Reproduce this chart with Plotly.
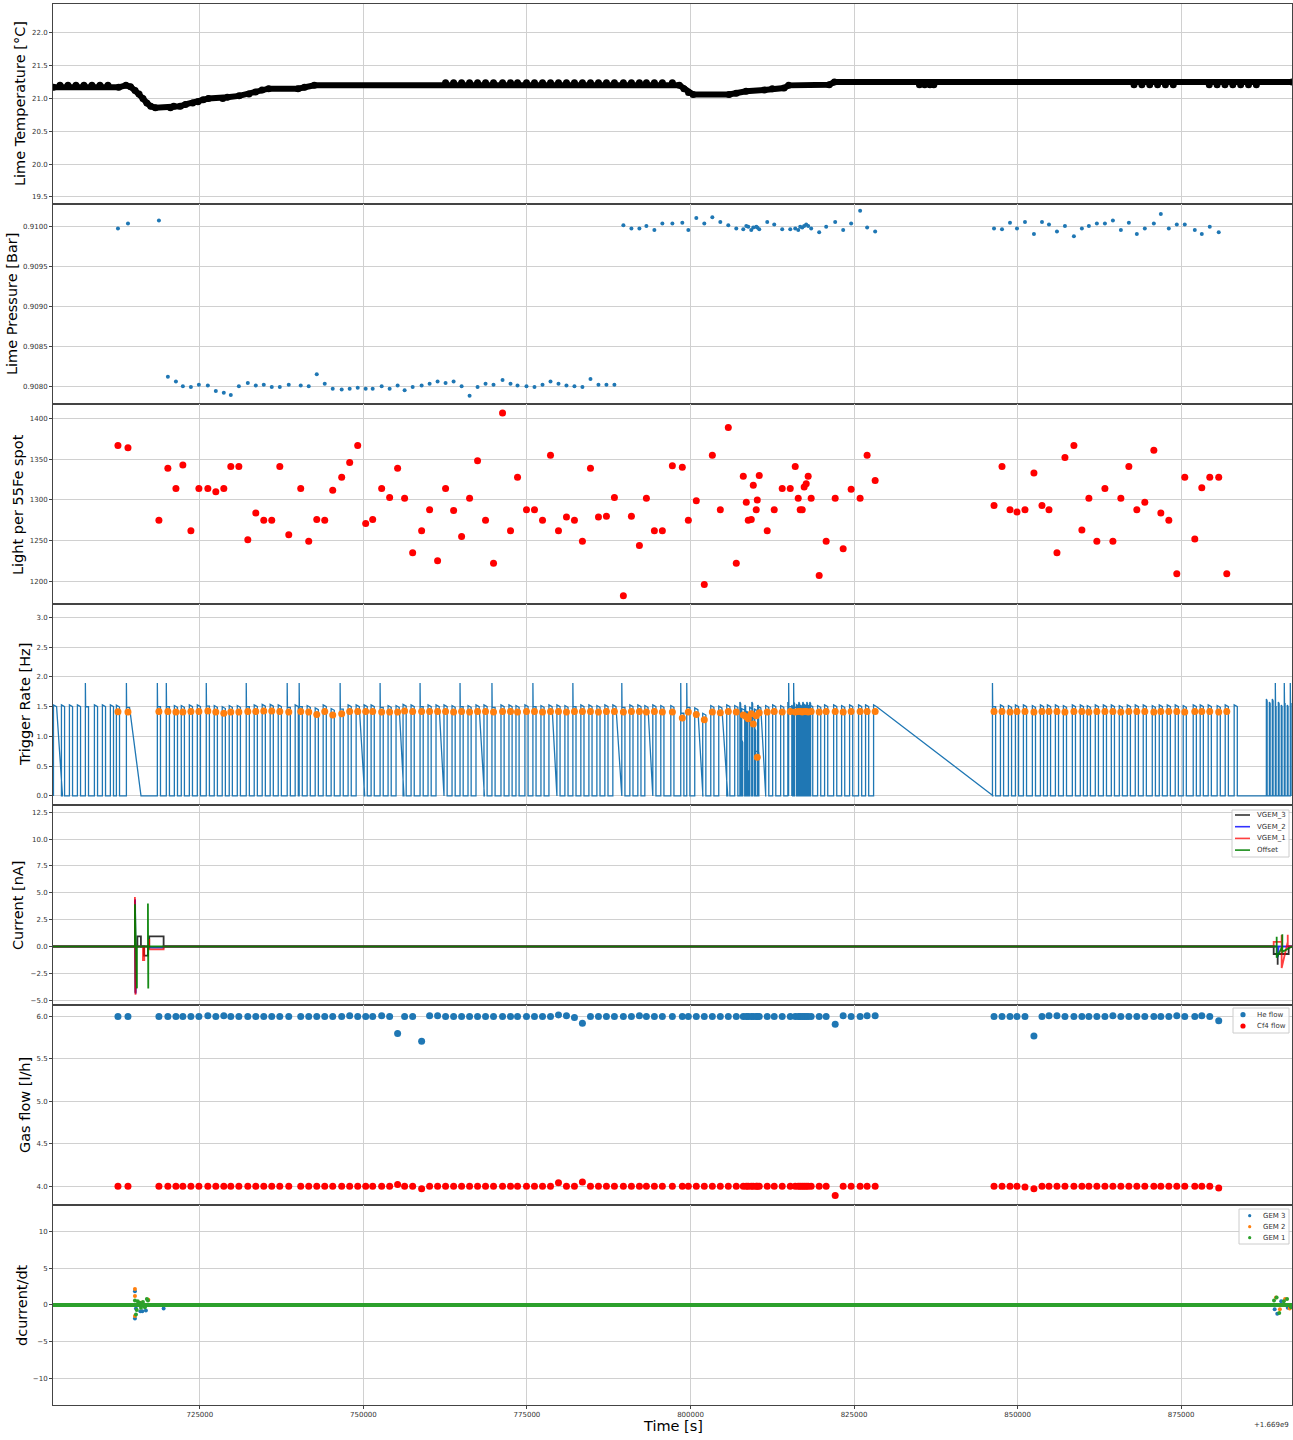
import plotly.graph_objects as go
from plotly.subplots import make_subplots

# ---------------------------------------------------------------------------
# Per-run quantities (time in s, offset from 1.669e9)
# ---------------------------------------------------------------------------
run_t = [
    712480, 714010, 718740, 720110, 721340, 722400, 723630, 724850, 726220, 727440,
    728660, 729730, 730960, 732330, 733550, 734770, 735990, 737220, 738590, 740420,
    741640, 742870, 744090, 745310, 746680, 747900, 749130, 750350, 751420, 752790,
    754010, 755230, 756300, 757530, 758900, 760120, 761340, 762560, 763790, 765010,
    766230, 767450, 768670, 769890, 771270, 772490, 773560, 774930, 776150, 777380,
    778600, 779820, 781040, 782260, 783480, 784710, 785930, 787150, 788370, 789740,
    790970, 792190, 793260, 794480, 795700, 797230, 798750, 799670, 800890, 802110,
    803340, 804560, 805780, 807000, 808070, 808530, 808830, 809290, 809600, 810050,
    810210, 810510, 811730, 812800, 814020, 815250, 816010, 816470, 816770, 817080,
    817380, 817690, 817990, 818450, 819670, 820740, 822120, 823340, 824560, 825930,
    827000, 828230,
    846400, 847620, 848840, 849910, 851130, 852500, 853730, 854800, 856020, 857240,
    858610, 859830, 860900, 862120, 863350, 864570, 865790, 867010, 868230, 869450,
    870830, 871900, 873120, 874340, 875560, 877090, 878160, 879380, 880750, 881980,
]

pressure_bar = [
    0.90998, 0.91004, 0.91008,
    0.90812, 0.90806, 0.90800, 0.90799, 0.90802, 0.90801, 0.90794, 0.90792, 0.90789, 0.90800,
    0.90804, 0.90801, 0.90802, 0.90799, 0.90799, 0.90802, 0.90801, 0.90800, 0.90815, 0.90803,
    0.90797, 0.90796, 0.90797, 0.90798, 0.90797, 0.90797, 0.90800, 0.90797, 0.90801, 0.90795,
    0.90799, 0.90801, 0.90803, 0.90806, 0.90804, 0.90806, 0.90800, 0.90788, 0.90799, 0.90803,
    0.90802, 0.90808, 0.90803, 0.90801, 0.90800, 0.90799, 0.90802, 0.90806, 0.90803, 0.90801,
    0.90800, 0.90799, 0.90809, 0.90802, 0.90802, 0.90802,
    0.91002, 0.90998, 0.90998, 0.91001, 0.90996, 0.91004, 0.91004, 0.91005, 0.90996, 0.91011,
    0.91004, 0.91012, 0.91006, 0.91002, 0.90998, 0.90997, 0.91001, 0.91000, 0.90996, 0.90999,
    0.91000, 0.90999, 0.90997, 0.91006, 0.91003, 0.90997, 0.90997, 0.90998, 0.90996, 0.91000,
    0.90999, 0.91001, 0.91003, 0.91001, 0.90998, 0.90993, 0.91000, 0.91006, 0.90996, 0.91004,
    0.91020, 0.90999, 0.90994,
    0.90998, 0.90997, 0.91005, 0.90998, 0.91006, 0.90991, 0.91006, 0.91003, 0.90994, 0.91001,
    0.90988, 0.90998, 0.91001, 0.91004, 0.91004, 0.91008, 0.90996, 0.91005, 0.90991, 0.90998,
    0.91004, 0.91016, 0.90998, 0.91003, 0.91003, 0.90996, 0.90991, 0.91000, 0.90993, None,
]

light_fe55 = [
    1367, 1364, 1275, 1339, 1314, 1343, 1262, 1314, 1314, 1310,
    1314, 1341, 1341, 1251, 1284, 1275, 1275, 1341, 1257, 1314,
    1249, 1276, 1275, 1312, 1328, 1346, 1367, 1271, 1276, 1314,
    1303, 1339, 1302, 1235, 1262, 1288, 1225, 1314, 1287, 1255,
    1302, 1348, 1275, 1222, 1407, 1262, 1328, 1288, 1288, 1275,
    1355, 1262, 1279, 1275, 1249, 1339, 1279, 1280, 1303, 1182,
    1280, 1244, 1302, 1262, 1262, 1342, 1340, 1275, 1299, 1196,
    1355, 1288, 1389, 1222, 1329, 1297, 1275, 1276, 1318, 1288,
    1300, 1330, 1262, 1288, 1314, 1314, 1341, 1302, 1288, 1288,
    1316, 1320, 1329, 1302, 1207, 1249, 1302, 1240, 1313, 1302,
    1355, 1324,
    1293, 1341, 1288, 1285, 1288, 1333, 1293, 1288, 1235, 1352,
    1367, 1263, 1302, 1249, 1314, 1249, 1302, 1341, 1288, 1297,
    1361, 1284, 1275, 1209, 1328, 1252, 1315, 1328, 1328, 1209,
]

trig_mean_hz = [
    1.415, 1.41, 1.42, 1.42, 1.41, 1.41, 1.42, 1.42, 1.43, 1.41,
    1.39, 1.41, 1.41, 1.42, 1.42, 1.43, 1.43, 1.42, 1.41, 1.42,
    1.41, 1.37, 1.42, 1.36, 1.38, 1.42, 1.42, 1.42, 1.42, 1.41,
    1.41, 1.41, 1.43, 1.42, 1.42, 1.42, 1.42, 1.42, 1.41, 1.42,
    1.41, 1.42, 1.42, 1.41, 1.42, 1.42, 1.41, 1.42, 1.42, 1.41,
    1.42, 1.42, 1.41, 1.42, 1.42, 1.42, 1.41, 1.42, 1.42, 1.41,
    1.42, 1.42, 1.41, 1.42, 1.41, 1.41, 1.31, 1.41, 1.37, 1.28,
    1.41, 1.40, 1.42, 1.41, 1.36, 1.33, 1.30, 1.38, 1.21, 1.35,
    0.65, 1.40, 1.41, 1.42, 1.41, 1.42, 1.41, 1.42, 1.42, 1.41,
    1.42, 1.42, 1.41, 1.42, 1.41, 1.42, 1.42, 1.41, 1.42, 1.42,
    1.42, 1.42,
    1.42, 1.42, 1.41, 1.42, 1.42, 1.41, 1.42, 1.42, 1.42, 1.41,
    1.42, 1.42, 1.41, 1.42, 1.42, 1.42, 1.41, 1.42, 1.42, 1.42,
    1.41, 1.42, 1.42, 1.42, 1.41, 1.42, 1.42, 1.42, 1.41, 1.42,
]

he_flow = [
    6.00, 6.00, 6.00, 6.00, 6.00, 6.00, 6.00, 6.00, 6.01, 6.00,
    6.01, 6.00, 6.00, 6.00, 6.00, 6.00, 6.00, 6.00, 6.00, 6.00,
    6.00, 6.00, 6.00, 6.00, 6.00, 6.01, 6.00, 6.00, 6.00, 6.01,
    6.00, 5.80, 6.00, 6.00, 5.71, 6.01, 6.01, 6.00, 6.00, 6.00,
    6.00, 6.00, 6.00, 6.00, 6.00, 6.00, 6.00, 6.00, 6.00, 6.00,
    6.00, 6.02, 6.01, 5.99, 5.92, 6.00, 6.00, 6.00, 6.00, 6.00,
    6.00, 6.01, 6.00, 6.00, 6.00, 6.00, 6.00, 6.00, 6.00, 6.00,
    6.00, 6.00, 6.00, 6.00, 6.00, 6.00, 6.00, 6.00, 6.00, 6.00,
    6.00, 6.00, 6.00, 6.00, 6.00, 6.00, 6.00, 6.00, 6.00, 6.00,
    6.00, 6.00, 6.00, 6.00, 6.00, 6.00, 5.91, 6.01, 6.00, 6.00,
    6.01, 6.01,
    6.00, 6.00, 6.00, 6.00, 6.00, 5.77, 6.00, 6.01, 6.01, 6.00,
    6.00, 6.00, 6.00, 6.00, 6.00, 6.01, 6.00, 6.00, 6.00, 6.00,
    6.00, 6.00, 6.00, 6.01, 6.00, 6.00, 6.01, 6.00, 5.95, None,
]

cf4_flow = [
    4.00, 4.00, 4.00, 4.00, 4.00, 4.00, 4.00, 4.00, 4.00, 4.00,
    4.00, 4.00, 4.00, 4.00, 4.00, 4.00, 4.00, 4.00, 4.00, 4.00,
    4.00, 4.00, 4.00, 4.00, 4.00, 4.00, 4.00, 4.00, 4.00, 4.00,
    4.00, 4.02, 4.00, 4.00, 3.97, 4.00, 4.00, 4.00, 4.00, 4.00,
    4.00, 4.00, 4.00, 4.00, 4.00, 4.00, 4.00, 4.00, 4.00, 4.00,
    4.00, 4.04, 4.00, 4.00, 4.05, 4.00, 4.00, 4.00, 4.00, 4.00,
    4.00, 4.00, 4.00, 4.00, 4.00, 4.00, 4.00, 4.00, 4.00, 4.00,
    4.00, 4.00, 4.00, 4.00, 4.00, 4.00, 4.00, 4.00, 4.00, 4.00,
    4.00, 4.00, 4.00, 4.00, 4.00, 4.00, 4.00, 4.00, 4.00, 4.00,
    4.00, 4.00, 4.00, 4.00, 4.00, 4.00, 3.89, 4.00, 4.00, 4.00,
    4.00, 4.00,
    4.00, 4.00, 4.00, 4.00, 3.99, 3.97, 4.00, 4.00, 4.00, 4.00,
    4.00, 4.00, 4.00, 4.00, 4.00, 4.00, 4.00, 4.00, 4.00, 4.00,
    4.00, 4.00, 4.00, 4.00, 4.00, 4.00, 4.00, 4.00, 3.98, None,
]

# ---------------------------------------------------------------------------
# Slow-control temperature
# ---------------------------------------------------------------------------
temp_t = [
    702600, 712600, 713700, 714400, 715100, 715700, 716300, 716900, 717500, 718200,
    720500, 721000, 722000, 722800, 723900, 724700, 725500, 726300, 728500, 729200,
    731000, 732500, 733500, 734500, 735500, 740000, 741000, 742500, 798300, 799000,
    799700, 800400, 805900, 807000, 808500, 811300, 812500, 814300, 815000, 821200,
    822000, 891950,
]
temp_c = [
    21.17, 21.17, 21.20, 21.18, 21.12, 21.07, 21.00, 20.93, 20.88, 20.86,
    20.86, 20.88, 20.88, 20.91, 20.93, 20.95, 20.98, 21.00, 21.00, 21.02,
    21.04, 21.07, 21.10, 21.13, 21.15, 21.15, 21.17, 21.20, 21.20, 21.15,
    21.09, 21.06, 21.06, 21.08, 21.11, 21.13, 21.15, 21.16, 21.20, 21.21,
    21.25, 21.25,
]
temp_alt_t = [
    703620, 704840, 706060, 707280, 708500, 709730, 710950,
    762560, 763790, 765010, 766230, 767450, 768670, 769890, 771270, 772490, 773560,
    774930, 776150, 777380, 778600, 779820, 781040, 782260, 783480, 784710, 785930,
    787150, 788370, 789740, 790970, 792190, 793260, 794480, 795700, 797230,
    835000, 835800, 836600, 837200,
    867800, 869000, 870200, 871400, 872600, 873800,
    879300, 880500, 881700, 882900, 884100, 885300, 886500,
]
temp_alt_c = [
    21.20, 21.20, 21.20, 21.20, 21.20, 21.20, 21.20,
    21.24, 21.24, 21.24, 21.24, 21.24, 21.24, 21.24, 21.24, 21.24, 21.24,
    21.24, 21.24, 21.24, 21.24, 21.24, 21.24, 21.24, 21.24, 21.24, 21.24,
    21.24, 21.24, 21.24, 21.24, 21.24, 21.24, 21.24, 21.24, 21.24,
    21.21, 21.21, 21.21, 21.21,
    21.21, 21.21, 21.21, 21.21, 21.21, 21.21,
    21.21, 21.21, 21.21, 21.21, 21.21, 21.21, 21.21,
]

# ---------------------------------------------------------------------------
# DAQ trigger rate: runs without reconstruction, bursts, spikes, slow decays
# ---------------------------------------------------------------------------
trig_extra_t = [702860, 704080, 705300, 706520, 707740, 709120, 710340, 711560,
                739810, 883350]
trig_burst_t = [807610, 807920, 808370, 808990, 809440, 809900, 810360,
                814940, 815550, 815860, 816320, 816620, 816930, 817230, 817540,
                817840, 818150, 818300,
                888090, 888550, 889000, 889460, 889920, 890370, 890830, 891290,
                891750]
trig_burst_hz = [1.55, 0.9, 1.5, 0.4, 1.55, 1.1, 1.5,
                 1.55, 1.5, 1.55, 1.5, 1.55, 1.5, 1.55, 1.5,
                 1.55, 1.5, 1.55,
                 1.6, 1.55, 1.6, 1.5, 1.55, 1.5, 1.55, 1.5,
                 1.55]
trig_spike_t = [707740, 714010, 718740, 720110, 726220, 732330, 738590, 740420,
                746680, 752790, 758900, 765010, 769890, 776150, 782260, 789740,
                798750, 799670, 815250, 816010, 846400, 889460, 890830, 891750]
trig_slow_from = [702860, 714010, 749130, 755230, 761340, 767450, 778600,
                  788370, 793260, 800890, 804560, 810510, 828230]
trig_slow_to = [704000, 716000, 750200, 756200, 762300, 768500, 779500,
                789400, 794200, 801900, 805700, 811500, 846300]
RUN_LEN_S = 480
BURST_LEN_S = 120

# ---------------------------------------------------------------------------
# GEM currents [nA]
# ---------------------------------------------------------------------------
vgem3_t = [702550, 715070, 715070, 715150, 715230, 715450, 715450, 715990, 715990,
           716460, 716460, 717060, 717060, 717260, 717260, 719460, 719460,
           889150, 889150, 889760, 889760, 889760, 891440, 891440, 891950]
vgem3_na = [0, 0, 4.3, -4.3, 0, 0, 0.95, 0.95, 0,
            0, -0.86, -0.86, 0, 0, 0.95, 0.95, 0,
            0, -0.7, -0.7, -1.7, -0.7, -0.7, 0, 0]
vgem2_t = [702550, 715100, 715100, 715180, 715230, 717260, 717260, 719460, 719460,
           889760, 889760, 889900, 891440, 891950]
vgem2_na = [0, 0, 4.4, -4.4, 0, 0, -0.1, -0.1, 0,
            0, -1.0, 0, 0, 0]
vgem1_t = [702550, 715070, 715070, 715160, 715230, 716300, 716300, 716500, 716500,
           717260, 717260, 717260, 719460, 719460,
           889150, 889150, 890370, 890370, 890370, 891300, 891300, 891300, 891950]
vgem1_na = [0, 0, 4.6, -4.5, 0, 0, -1.26, -1.26, 0,
            0, 0.7, -0.26, -0.26, 0,
            0, 0.42, 0.42, 1.07, -2.0, 0.42, 1.1, 0, 0]
offset_t = [702550, 715070, 715070, 715380, 715380, 717060, 717060, 717110, 717110,
            889610, 889610, 889610, 890470, 890470, 890470, 891950]
offset_na = [0, 0, 3.93, -3.9, 0, 0, 4.0, -3.9, 0,
             0, 0.91, -1.04, 0, 1.14, -0.5, 0]

# dI/dt per GEM: flat at zero over the whole span, with a few excursions
gem_span_t = [702550, 891950]
gem_span_v = [0, 0]
gem3_t = [715075, 715075, 715230, 715900, 716200, 716750, 719460,
          889300, 889700, 890300, 891300]
gem3_v = [1.85, -1.85, -0.5, -0.85, -0.85, -0.77, -0.5,
          -0.6, -1.2, 0.5, -0.4]
gem2_t = [715075, 715075, 715075, 716000, 717130,
          889500, 890100, 890900, 891600]
gem2_v = [2.16, 1.2, -1.5, 0.3, 0.7,
          1.0, -0.6, 0.8, -0.5]
gem1_t = [715075, 715230, 715350, 715500, 715800, 716000, 716300, 716600, 716900, 717060,
          889200, 889600, 890000, 890700, 891200, 891800]
gem1_v = [0.6, -1.3, -0.7, 0.5, 0.3, -0.4, 0.4, -0.3, 0.8, 0.6,
          0.6, 1.0, -1.1, 0.5, 0.8, -0.3]

X_RANGE = [702550, 891950]
X_TICKS = [725000, 750000, 775000, 800000, 825000, 850000, 875000]

BLUE = "#1f77b4"
ORANGE = "#ff7f0e"
GREEN_T = "#2ca02c"

# ---------------------------------------------------------------------------
# Build the trigger-rate polyline from the run list
# ---------------------------------------------------------------------------
runs = []
for t, m in zip(run_t, trig_mean_hz):
    runs.append((t, m + 0.08, RUN_LEN_S))
for t in trig_extra_t:
    runs.append((t, 1.5, RUN_LEN_S))
for t, h in zip(trig_burst_t, trig_burst_hz):
    runs.append((t, h, BURST_LEN_S))
runs.sort()
slow_end = dict(zip(trig_slow_from, trig_slow_to))
spikes = set(trig_spike_t)
trig_x, trig_y = [], []
for c, lvl, dur in runs:
    on, off = c - dur / 2, c + dur / 2
    if c in spikes:
        trig_x += [on, on, on + 40, off, slow_end.get(c, off)]
        trig_y += [0, 1.9, lvl, lvl, 0]
    else:
        trig_x += [on, on, off, slow_end.get(c, off)]
        trig_y += [0, lvl + 0.03, lvl, 0]

# ---------------------------------------------------------------------------
# Figure
# ---------------------------------------------------------------------------
fig = make_subplots(rows=7, cols=1, shared_xaxes=True, vertical_spacing=0)

fig.add_trace(go.Scatter(x=temp_t, y=temp_c, mode="lines+markers",
                         line=dict(color="black", width=6),
                         marker=dict(color="black", size=7)),
              row=1, col=1)
fig.add_trace(go.Scatter(x=temp_alt_t, y=temp_alt_c, mode="markers",
                         marker=dict(color="black", size=7)),
              row=1, col=1)

fig.add_trace(go.Scatter(x=run_t, y=pressure_bar, mode="markers",
                         marker=dict(color=BLUE, size=4)),
              row=2, col=1)

fig.add_trace(go.Scatter(x=run_t, y=light_fe55, mode="markers",
                         marker=dict(color="red", size=7)),
              row=3, col=1)

fig.add_trace(go.Scatter(x=trig_x, y=trig_y, mode="lines",
                         line=dict(color=BLUE, width=1.3)),
              row=4, col=1)
fig.add_trace(go.Scatter(x=run_t, y=trig_mean_hz, mode="markers",
                         marker=dict(color=ORANGE, size=7)),
              row=4, col=1)

CURRENT_SERIES = [(vgem3_t, vgem3_na, "VGEM_3", "black", 0.8),
                  (vgem2_t, vgem2_na, "VGEM_2", "blue", 0.8),
                  (vgem1_t, vgem1_na, "VGEM_1", "red", 0.75),
                  (offset_t, offset_na, "Offset", "green", 0.9)]
for t, v, name, col, op in CURRENT_SERIES:
    fig.add_trace(go.Scatter(x=t, y=v, mode="lines", name=name,
                             line=dict(color=col, width=1.8), opacity=op),
                  row=5, col=1)

fig.add_trace(go.Scatter(x=run_t, y=he_flow, mode="markers", name="He flow",
                         marker=dict(color=BLUE, size=7)),
              row=6, col=1)
fig.add_trace(go.Scatter(x=run_t, y=cf4_flow, mode="markers", name="Cf4 flow",
                         marker=dict(color="red", size=7)),
              row=6, col=1)

GEM_SERIES = [(gem3_t, gem3_v, "GEM 3", BLUE),
              (gem2_t, gem2_v, "GEM 2", ORANGE),
              (gem1_t, gem1_v, "GEM 1", GREEN_T)]
for t, v, name, col in GEM_SERIES:
    fig.add_trace(go.Scatter(x=gem_span_t, y=gem_span_v, mode="lines",
                             line=dict(color=col, width=4), hoverinfo="skip"),
                  row=7, col=1)
    fig.add_trace(go.Scatter(x=t, y=v, mode="markers", name=name,
                             marker=dict(color=col, size=4)),
                  row=7, col=1)

# ---------------------------------------------------------------------------
# Axes
# ---------------------------------------------------------------------------
FRAME = "#444444"
GRID = "#d0d0d0"
TICKFONT = dict(family="DejaVu Sans", size=7, color="#333333")

y_setup = [
    ([19.39, 22.44], [19.5, 20.0, 20.5, 21.0, 21.5, 22.0], ".1f"),
    ([0.907774, 0.910284], [0.9080, 0.9085, 0.9090, 0.9095, 0.9100], ".4f"),
    ([1171.4, 1417.6], [1200, 1250, 1300, 1350, 1400], "d"),
    ([-0.145, 3.22], [0.0, 0.5, 1.0, 1.5, 2.0, 2.5, 3.0], ".1f"),
    ([-5.42, 13.21], [-5.0, -2.5, 0.0, 2.5, 5.0, 7.5, 10.0, 12.5], ".1f"),
    ([3.78, 6.14], [4.0, 4.5, 5.0, 5.5, 6.0], ".1f"),
    ([-13.62, 13.62], [-10, -5, 0, 5, 10], "d"),
]
for i, (rng, tv, fmt) in enumerate(y_setup, start=1):
    fig.update_yaxes(range=rng, tickvals=tv, tickformat=fmt, row=i, col=1,
                     showgrid=True, gridcolor=GRID, gridwidth=1, zeroline=False,
                     showline=True, mirror=True, linecolor=FRAME, linewidth=1,
                     ticks="outside", ticklen=3, tickcolor=FRAME,
                     tickfont=TICKFONT)
    fig.update_xaxes(range=X_RANGE, tickvals=X_TICKS, tickformat="d", row=i, col=1,
                     showgrid=True, gridcolor=GRID, gridwidth=1, zeroline=False,
                     showline=True, mirror=True, linecolor=FRAME, linewidth=1,
                     ticks="outside" if i == 7 else "", ticklen=3, tickcolor=FRAME,
                     tickfont=TICKFONT)

# ---------------------------------------------------------------------------
# Layout, titles and compact legends
# ---------------------------------------------------------------------------
W, H = 1293, 1440
ML, MR, MT, MB = 53, 1, 4, 35
PW, PH = W - ML - MR, H - MT - MB


def px_x(px):
    return (px - ML) / PW


def px_y(py):
    return (H - MB - py) / PH


TITLE_FONT = dict(family="DejaVu Sans", size=14.5, color="black")
LEG_FONT = dict(family="DejaVu Sans", size=7, color="#333333")
y_titles = [("Lime Temperature [°C]", 20, 104),
            ("Lime Pressure [Bar]", 12, 304),
            ("Light per 55Fe spot", 18, 505),
            ("Trigger Rate [Hz]", 25, 705),
            ("Current [nA]", 18, 905),
            ("Gas flow [l/h]", 25, 1105),
            ("dcurrent/dt", 22, 1305)]
annotations = []
shapes = []
for text, xp, yp in y_titles:
    annotations.append(dict(text=text, xref="paper", yref="paper",
                            x=px_x(xp), y=px_y(yp), textangle=-90,
                            showarrow=False, font=TITLE_FONT,
                            xanchor="center", yanchor="middle"))
annotations.append(dict(text="Time [s]", xref="paper", yref="paper",
                        x=px_x(673), y=px_y(1426), showarrow=False,
                        font=TITLE_FONT, xanchor="center", yanchor="middle"))
annotations.append(dict(text="+1.669e9", xref="paper", yref="paper",
                        x=px_x(1291), y=px_y(1425), showarrow=False,
                        font=dict(family="DejaVu Sans", size=7, color="#333333"),
                        xanchor="right", yanchor="middle"))


def legend_frame(x0, y0, x1, y1):
    shapes.append(dict(type="rect", xref="paper", yref="paper",
                       x0=px_x(x0), x1=px_x(x1), y0=px_y(y1), y1=px_y(y0),
                       fillcolor="rgba(255,255,255,0.85)",
                       line=dict(color="#cccccc", width=1), layer="above"))


def legend_label(text, x, y):
    annotations.append(dict(text=text, xref="paper", yref="paper",
                            x=px_x(x), y=px_y(y), showarrow=False, font=LEG_FONT,
                            xanchor="left", yanchor="middle"))


def legend_line(color, x0, x1, y, op):
    shapes.append(dict(type="line", xref="paper", yref="paper",
                       x0=px_x(x0), x1=px_x(x1), y0=px_y(y), y1=px_y(y),
                       line=dict(color=color, width=1.6), opacity=op,
                       layer="above"))


def legend_dot(color, cx, cy, r):
    shapes.append(dict(type="circle", xref="paper", yref="paper",
                       x0=px_x(cx - r), x1=px_x(cx + r),
                       y0=px_y(cy + r), y1=px_y(cy - r),
                       fillcolor=color, line=dict(width=0), layer="above"))


# currents
legend_frame(1232, 810, 1289, 857)
for k, (_, _, name, col, op) in enumerate(CURRENT_SERIES):
    yy = 815 + k * 11.7
    legend_line(col, 1235, 1250, yy, op)
    legend_label(name, 1255, yy)

# gas flow
legend_frame(1233, 1008, 1289, 1033)
for k, (name, col) in enumerate([("He flow", BLUE), ("Cf4 flow", "red")]):
    yy = 1014.7 + k * 11.3
    legend_dot(col, 1243, yy, 2.6)
    legend_label(name, 1255, yy)

# current derivative
legend_frame(1239, 1209, 1289, 1244)
for k, (_, _, name, col) in enumerate(GEM_SERIES):
    yy = 1215.7 + k * 11.0
    legend_dot(col, 1249.7, yy, 1.6)
    legend_label(name, 1261, yy)

fig.update_traces(showlegend=False)
fig.update_layout(
    width=W, height=H,
    margin=dict(l=ML, r=MR, t=MT, b=MB),
    paper_bgcolor="white", plot_bgcolor="white",
    font=dict(family="DejaVu Sans"),
    annotations=annotations,
    shapes=shapes,
    showlegend=False,
)

fig.write_html("out.html")
